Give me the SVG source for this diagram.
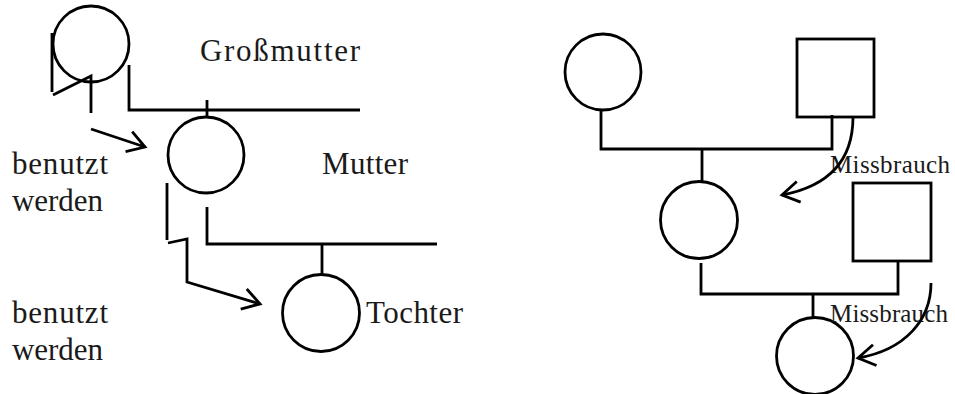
<svg xmlns="http://www.w3.org/2000/svg" width="955" height="394" viewBox="0 0 955 394">
  <style>
    .shape { fill: none; stroke: #000; stroke-width: 2.8; }
    .line { fill: none; stroke: #000; stroke-width: 2.8; }
    .lbl { font-family: "Liberation Serif", "DejaVu Serif", serif; font-size: 31px; fill: #1a1a1a; }
    .small { font-family: "Liberation Serif", "DejaVu Serif", serif; font-size: 25px; fill: #1a1a1a; }
  </style>
  <defs>
    <marker id="arr" markerWidth="30" markerHeight="30" viewBox="-22 -15 30 30" refX="0" refY="0" orient="auto" markerUnits="userSpaceOnUse">
      <path d="M-17,-10.5 L0,0 L-17,10.5" fill="none" stroke="#000" stroke-width="2.8"/>
    </marker>
  </defs>

  <rect width="955" height="394" fill="#fff"/>

  <!-- Left pedigree -->
  <g id="grossmutter">
    <circle class="shape" cx="91" cy="44" r="38"/>
    <text class="lbl" x="200" y="61" textLength="160" lengthAdjust="spacing">Großmutter</text>
  </g>
  <g id="mutter">
    <circle class="shape" cx="206" cy="155" r="38"/>
    <text class="lbl" x="322" y="174" textLength="86" lengthAdjust="spacing">Mutter</text>
  </g>
  <g id="tochter">
    <circle class="shape" cx="321" cy="313" r="38.5"/>
    <text class="lbl" x="366" y="323" textLength="97" lengthAdjust="spacing">Tochter</text>
  </g>
  <g id="label-benutzt-1">
    <text class="lbl" x="12" y="174" textLength="96" lengthAdjust="spacing">benutzt</text>
    <text class="lbl" x="12" y="211" textLength="91" lengthAdjust="spacing">werden</text>
  </g>
  <g id="label-benutzt-2">
    <text class="lbl" x="12" y="323" textLength="96" lengthAdjust="spacing">benutzt</text>
    <text class="lbl" x="12" y="360" textLength="91" lengthAdjust="spacing">werden</text>
  </g>

  <!-- Right pedigree -->
  <g id="frau-1">
    <circle class="shape" cx="603" cy="72" r="38"/>
  </g>
  <g id="mann-1">
    <rect class="shape" x="797" y="39" width="77" height="78"/>
  </g>
  <g id="frau-2">
    <circle class="shape" cx="699" cy="220" r="38.5"/>
  </g>
  <g id="mann-2">
    <rect class="shape" x="853" y="183" width="78" height="78"/>
  </g>
  <g id="frau-3">
    <circle class="shape" cx="815" cy="356" r="38.5"/>
  </g>
  <g id="label-missbrauch-1">
    <text class="small" x="830" y="173" textLength="120" lengthAdjust="spacing">Missbrauch</text>
  </g>
  <g id="label-missbrauch-2">
    <text class="small" x="830" y="322" textLength="118" lengthAdjust="spacing">Missbrauch</text>
  </g>

  <g id="connectors">
    <!-- left -->
    <path class="line" d="M52,33 L52,92 M53,95 L91,76 L91,113"/>
    <path class="line" d="M129,65 L129,110 L360,110 M207,100 L207,118"/>
    <path class="line" d="M91,129 L145,147" marker-end="url(#arr)"/>
    <path class="line" d="M167,183 L167,240 M168,243 L187,239 L187,282 L260,304" marker-end="url(#arr)"/>
    <path class="line" d="M207,207 L207,244 L437,244 M322,244 L322,274"/>
    <!-- right -->
    <path class="line" d="M601,110 L601,149 L832,149 L832,115 M702,149 L702,182"/>
    <path class="line" d="M853,117 C853,155 835,185 782,195" marker-end="url(#arr)"/>
    <path class="line" d="M701,263 L701,294 L898,294 L898,261 M813,294 L813,318"/>
    <path class="line" d="M931,283 C931,320 905,350 858,358" marker-end="url(#arr)"/>
  </g>
</svg>
